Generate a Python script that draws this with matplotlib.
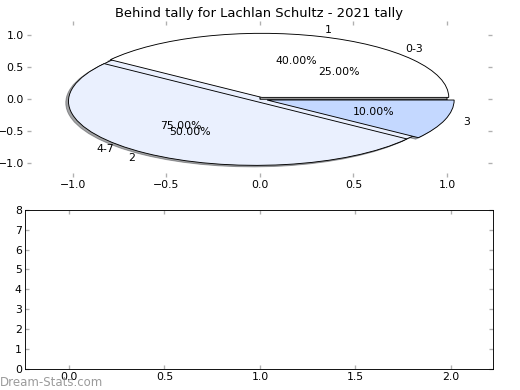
import matplotlib

matplotlib.use('Agg')
import matplotlib.pyplot as plt

TITLE = 'Behind tally for Lachlan Schultz - 2021 tally'

# outer pie: tally ranges
range_labels = ['0-3', '4-7']
range_values = [25, 75]

# inner pie: single tallies
tally_labels = ['1', '2', '3']
tally_values = [40, 50, 10]

x_ticks_top = [-1.0, -0.5, 0.0, 0.5, 1.0]
y_ticks_top = [-1.0, -0.5, 0.0, 0.5, 1.0]
x_ticks_bottom = [0.0, 0.5, 1.0, 1.5, 2.0]
y_ticks_bottom = [0, 1, 2, 3, 4, 5, 6, 7, 8]

WHITE = '#ffffff'
LIGHT = '#eaf0fe'
BLUE = '#c4d8ff'
TICK_GREY = '#b0b0b0'

plt.rcParams['font.family'] = 'DejaVu Sans'
plt.rcParams['font.size'] = 12

fig = plt.figure(figsize=(8, 6), dpi=65)
ax1 = fig.add_axes((0.052, 0.546, 0.894, 0.40))
ax2 = fig.add_axes((0.048, 0.054, 0.900, 0.408))

# shadow offset: data units (times dpi/72)
shadow = {'ox': -0.016, 'oy': -0.026}
ax1.pie(range_values, labels=range_labels, colors=[WHITE, LIGHT], autopct='%.2f%%',
        shadow=shadow, startangle=0,
        wedgeprops={'edgecolor': 'black', 'linewidth': 1})
ax1.pie(tally_values, labels=tally_labels, colors=[WHITE, LIGHT, BLUE], autopct='%.2f%%',
        explode=(0.03, 0.04, 0.04), shadow=shadow, startangle=0,
        wedgeprops={'edgecolor': 'black', 'linewidth': 1})
ax1.set_aspect('auto')
ax1.set_frame_on(False)
ax1.set_xlim(-1.245, 1.24)
ax1.set_ylim(-1.215, 1.22)
ax1.set_xticks(x_ticks_top)
ax1.set_yticks(y_ticks_top)
ax1.tick_params(direction='in', color=TICK_GREY, length=4, width=1.5,
                top=True, right=True, labelsize=12)
ax1.set_title(TITLE, fontsize=14.5, pad=4)

ax2.set_xlim(-0.23, 2.22)
ax2.set_ylim(0, 8)
ax2.set_xticks(x_ticks_bottom)
ax2.set_yticks(y_ticks_bottom)
ax2.tick_params(direction='in', color=TICK_GREY, length=4, width=1.5,
                top=True, right=True, labelsize=12)
for sp in ax2.spines.values():
    sp.set_color('black')
    sp.set_linewidth(1)

fig.text(0.0, 0.01, 'Dream-Stats.com', fontsize=13, color='#909090', alpha=0.9)

fig.savefig('out.png', dpi=65)
